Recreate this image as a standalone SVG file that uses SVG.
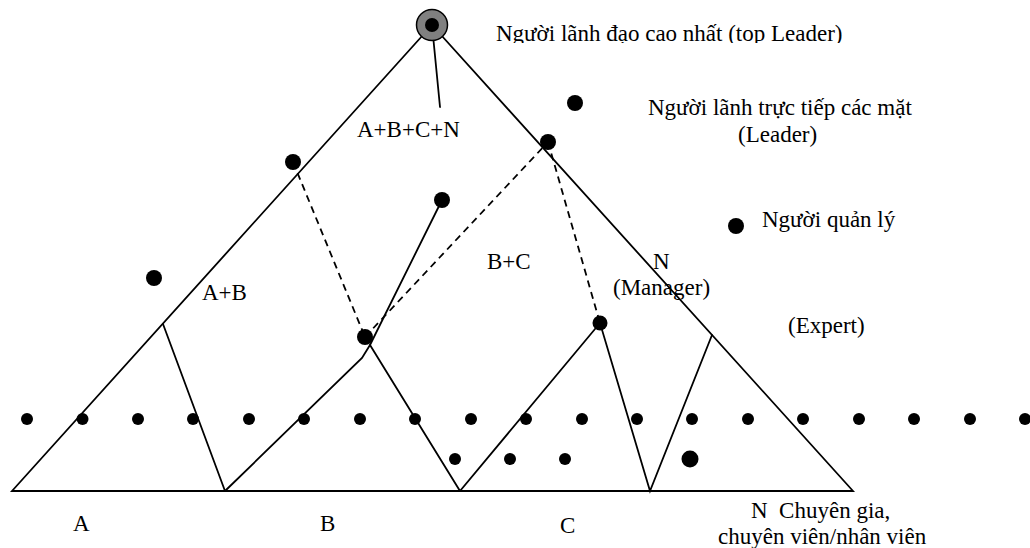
<svg xmlns="http://www.w3.org/2000/svg" width="1030" height="548" viewBox="0 0 1030 548">
  <style>
    .ln { stroke: #000; stroke-width: 1.8; fill: none; stroke-linecap: round; }
    .dash { stroke: #000; stroke-width: 1.8; fill: none; stroke-dasharray: 7 5; }
    .dot { fill: #000; }
    text { font-family: "Liberation Serif", "Times New Roman", serif; font-size: 23px; fill: #000; }
  </style>
  <defs>
    <clipPath id="topClip">
      <rect x="480" y="0" width="400" height="43"/>
    </clipPath>
  </defs>
  <rect width="1030" height="548" fill="#fff"/>

  <!-- connectors: pyramid outline and the reporting lines inside it -->
  <g id="connectors">
    <path class="ln" d="M432,25 L12,491 L853,491 Z"/>
    <line class="ln" x1="432" y1="25" x2="440" y2="107"/>
    <line class="ln" x1="163" y1="324" x2="225" y2="491"/>
    <line class="ln" x1="442" y1="200" x2="370" y2="345"/>
    <polyline class="ln" points="225,491 362,358 370,345 460,491"/>
    <polyline class="ln" points="460,491 600,323 650,491 712,335"/>
    <line class="dash" x1="293" y1="162" x2="365" y2="337"/>
    <line class="dash" x1="365" y1="337" x2="548" y2="142"/>
    <line class="dash" x1="548" y1="142" x2="600" y2="323"/>
  </g>

  <!-- top leader -->
  <g id="top-leader">
    <circle cx="432" cy="25" r="15.5" fill="#808080" stroke="#000" stroke-width="1.5"/>
    <circle class="dot" cx="432" cy="25" r="7"/>
  </g>

  <!-- leaders, managers and staff -->
  <g id="leaders">
    <circle class="dot" cx="575" cy="103" r="8"/>
    <circle class="dot" cx="548" cy="142" r="8"/>
    <circle class="dot" cx="293" cy="162" r="8"/>
  </g>
  <g id="managers">
    <circle class="dot" cx="442" cy="200" r="8"/>
    <circle class="dot" cx="154" cy="278" r="8"/>
    <circle class="dot" cx="736" cy="226" r="8"/>
    <circle class="dot" cx="365" cy="337" r="8"/>
    <circle class="dot" cx="600" cy="323" r="7.5"/>
  </g>
  <g id="staff-row">
    <circle class="dot" cx="27" cy="419" r="6"/>
    <circle class="dot" cx="82.5" cy="419" r="6"/>
    <circle class="dot" cx="138" cy="419" r="6"/>
    <circle class="dot" cx="193" cy="419" r="6"/>
    <circle class="dot" cx="249" cy="419" r="6"/>
    <circle class="dot" cx="304" cy="419" r="6"/>
    <circle class="dot" cx="360" cy="419" r="6"/>
    <circle class="dot" cx="415" cy="419" r="6"/>
    <circle class="dot" cx="471" cy="419" r="6"/>
    <circle class="dot" cx="526" cy="419" r="6"/>
    <circle class="dot" cx="582" cy="419" r="6"/>
    <circle class="dot" cx="637" cy="419" r="6"/>
    <circle class="dot" cx="692" cy="419" r="6"/>
    <circle class="dot" cx="748" cy="419" r="6"/>
    <circle class="dot" cx="803" cy="419" r="6"/>
    <circle class="dot" cx="859" cy="419" r="6"/>
    <circle class="dot" cx="914" cy="419" r="6"/>
    <circle class="dot" cx="970" cy="419" r="6"/>
    <circle class="dot" cx="1025" cy="419" r="6"/>
  </g>
  <g id="staff-lower">
    <circle class="dot" cx="455" cy="459" r="6"/>
    <circle class="dot" cx="510" cy="459" r="6"/>
    <circle class="dot" cx="565" cy="459" r="6"/>
    <circle class="dot" cx="690" cy="459" r="8.5"/>
  </g>

  <!-- labels -->
  <g id="labels">
    <text x="496" y="41" clip-path="url(#topClip)">Người lãnh đạo cao nhất (top Leader)</text>
    <text x="648" y="115">Người lãnh trực tiếp các mặt</text>
    <text x="738" y="142">(Leader)</text>
    <text x="357" y="137">A+B+C+N</text>
    <text x="762" y="227">Người quản lý</text>
    <text x="202" y="300">A+B</text>
    <text x="487" y="269">B+C</text>
    <text x="653" y="269">N</text>
    <text x="613" y="295">(Manager)</text>
    <text x="788" y="333">(Expert)</text>
    <text x="73" y="531">A</text>
    <text x="320" y="531">B</text>
    <text x="560" y="533">C</text>
    <text x="751" y="518" xml:space="preserve">N  Chuyên gia,</text>
    <text x="718" y="544">chuyên viên/nhân viên</text>
  </g>
</svg>
